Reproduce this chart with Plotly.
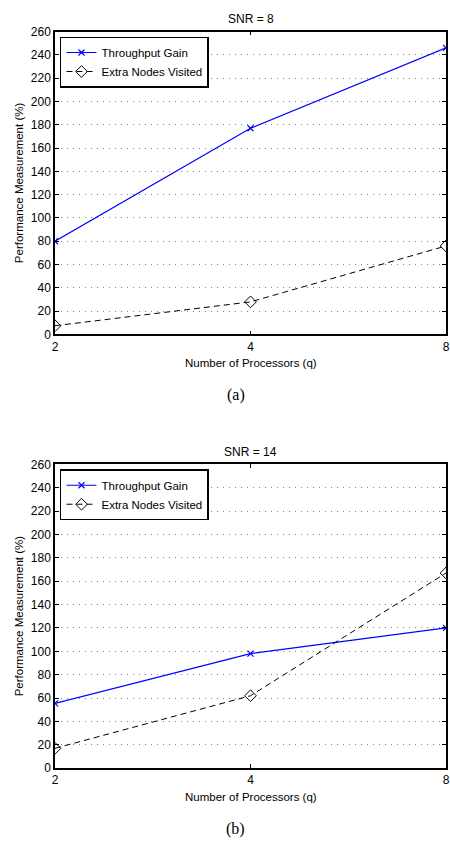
import math
import plotly.graph_objects as go

processors = [2, 4, 8]
x_ticks = [2, 4, 8]
y_ticks = list(range(0, 261, 20))

snr8_throughput = [80, 177, 246]
snr8_extra = [7.5, 28, 76]
snr14_throughput = [55.5, 98, 120]
snr14_extra = [17, 62, 167]

titles = ["SNR = 8", "SNR = 14"]
panel_labels = ["(a)", "(b)"]

FONT = "Liberation Sans, Arial, sans-serif"
W, H = 450, 847
L, R = 55, 3

fig = go.Figure()

def add_panel(idx, thr, ext):
    xa = "x" if idx == 1 else f"x{idx}"
    ya = "y" if idx == 1 else f"y{idx}"
    leg = "legend" if idx == 1 else f"legend{idx}"
    fig.add_trace(go.Scatter(
        x=processors, y=thr, mode="lines+markers", name="Throughput Gain",
        line=dict(color="#0000FF", width=1.2),
        marker=dict(symbol="x-thin-open", size=6, line=dict(color="#0000FF", width=1.2)),
        xaxis=xa, yaxis=ya, legend=leg))
    fig.add_trace(go.Scatter(
        x=processors, y=ext, mode="lines+markers", name="Extra Nodes Visited",
        line=dict(color="black", width=1, dash="6px,4px"),
        marker=dict(symbol="diamond-open", size=9, color="black", line=dict(color="black", width=1)),
        xaxis=xa, yaxis=ya, legend=leg))

add_panel(1, snr8_throughput, snr8_extra)
add_panel(2, snr14_throughput, snr14_extra)

# pixel positions of plot areas
panels = [(25, 333), (465, 774)]

def ydom(top, bottom):
    return [1 - bottom / H, 1 - top / H]

axis_common = dict(
    showline=True, linecolor="black", linewidth=1.5, mirror="ticks",
    ticks="inside", ticklen=4, tickwidth=1, tickcolor="black",
    tickfont=dict(family=FONT, size=12, color="black"), zeroline=False,
)

layout = dict(
    width=W, height=H,
    margin=dict(l=L, r=R, t=0, b=0),
    paper_bgcolor="white", plot_bgcolor="white",
    font=dict(family=FONT, color="black"),
    annotations=[],
)

for i, (top, bottom) in enumerate(panels, start=1):
    sx = "" if i == 1 else str(i)
    layout[f"xaxis{sx}"] = dict(
        type="log", range=[math.log10(2), math.log10(8)], tickvals=x_ticks,
        ticktext=[str(v) for v in x_ticks], showgrid=False,
        ticklabeloverflow="allow",
        anchor=f"y{sx}", domain=[0, 1], **axis_common)
    layout[f"yaxis{sx}"] = dict(
        range=[0, 260], tickvals=y_ticks, showgrid=True,
        gridcolor="#808080", griddash="1px,5px", gridwidth=1,
        anchor=f"x{sx}", domain=ydom(top, bottom), **axis_common)
    leg = "legend" if i == 1 else f"legend{i}"
    layout[leg] = dict(
        x=(60 - L) / (W - L - R), y=1 - (top + 5) / H, xref="paper", yref="paper",
        xanchor="left", yanchor="top",
        bgcolor="white", bordercolor="black", borderwidth=1.5,
        font=dict(family=FONT, size=11.5, color="black"),
        tracegroupgap=0, itemwidth=30,
    )
    plot_w = W - L - R
    layout["annotations"] += [
        dict(text=titles[i - 1], xref="paper", yref="paper", x=0.5,
             y=1 - (top - 13) / H, xanchor="center", yanchor="middle",
             showarrow=False, font=dict(family=FONT, size=12, color="black")),
        dict(text="Number of Processors (q)", xref="paper", yref="paper", x=0.5,
             y=1 - (bottom + 29) / H, xanchor="center", yanchor="middle",
             showarrow=False, font=dict(family=FONT, size=11.5, color="black")),
        dict(text="Performance Measurement (%)", xref="paper", yref="paper",
             x=(19 - L) / plot_w, y=1 - ((top + bottom) / 2) / H,
             xanchor="center", yanchor="middle", textangle=-90,
             showarrow=False, font=dict(family=FONT, size=11.5, color="black")),
        dict(text=panel_labels[i - 1], xref="paper", yref="paper", x=(236 - L) / plot_w,
             y=1 - (bottom + 62) / H, xanchor="center", yanchor="middle",
             showarrow=False, font=dict(family="Liberation Serif, Times New Roman, serif", size=16, color="black")),
    ]

fig.update_layout(**layout)
fig.write_html(
    "out.html",
    config={"displayModeBar": False},
    post_script="document.body.style.margin='0';document.body.style.overflow='hidden';",
)
